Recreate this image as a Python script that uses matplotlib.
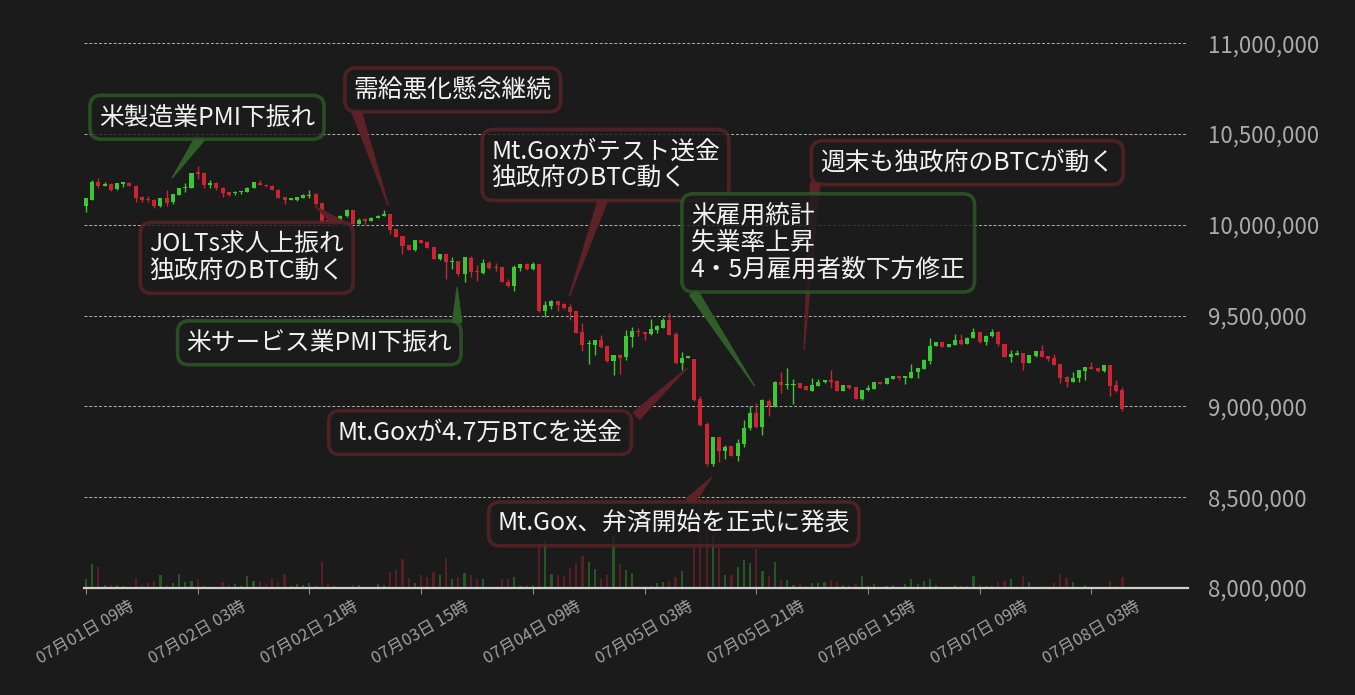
import numpy as np
import pandas as pd
import matplotlib
matplotlib.use("Agg")
import matplotlib.pyplot as plt

plt.rcParams["font.family"] = ["Noto Sans CJK JP", "DejaVu Sans"]

# BTC/JPY 1時間足 (千円単位)
opens_k = [
    10102, 10139, 10238, 10214, 10227, 10198, 10227, 10231, 10216, 10152,
    10143, 10135, 10102, 10150, 10124, 10163, 10203, 10201, 10293, 10286,
    10218, 10232, 10205, 10179, 10176, 10179, 10181, 10203, 10232, 10221,
    10216, 10194, 10154, 10139, 10135, 10146, 10158, 10172, 10121, 10025,
    10014, 10018, 10047, 10080, 10007, 10033, 10022, 10040, 10051, 10058,
    9974, 9937, 9886, 9860, 9915, 9904, 9875, 9809, 9837, 9794,
    9798, 9727, 9815, 9747, 9732, 9787, 9765, 9765, 9685, 9661,
    9760, 9782, 9754, 9782, 9525, 9551, 9579, 9562, 9546, 9524,
    9407, 9344, 9338, 9363, 9330, 9249, 9282, 9272, 9382, 9414,
    9408, 9399, 9421, 9432, 9474, 9397, 9240, 9269, 9260, 9040,
    8903, 8683, 8831, 8756, 8782, 8728, 8794, 8879, 8963, 8888,
    9029, 8998, 9137, 9119, 9119, 9128, 9110, 9086, 9113, 9132,
    9144, 9141, 9084, 9117, 9104, 9042, 9088, 9097, 9133, 9126,
    9152, 9166, 9159, 9157, 9187, 9207, 9250, 9331, 9353, 9327,
    9338, 9364, 9346, 9379, 9408, 9352, 9386, 9412, 9342, 9272,
    9283, 9293, 9240, 9276, 9304, 9276, 9265, 9232, 9161, 9135,
    9155, 9194, 9216, 9210, 9194, 9227, 9117, 9090,
]
highs_k = [
    10145, 10249, 10258, 10234, 10230, 10232, 10232, 10233, 10218, 10157,
    10157, 10140, 10150, 10194, 10168, 10205, 10231, 10286, 10322, 10290,
    10249, 10234, 10206, 10180, 10185, 10185, 10206, 10238, 10249, 10222,
    10217, 10195, 10155, 10150, 10155, 10168, 10194, 10175, 10122, 10028,
    10028, 10053, 10085, 10082, 10035, 10040, 10042, 10052, 10080, 10060,
    9975, 9938, 9887, 9917, 9917, 9908, 9877, 9840, 9840, 9820,
    9800, 9823, 9826, 9776, 9809, 9798, 9787, 9766, 9703, 9780,
    9783, 9791, 9793, 9784, 9579, 9586, 9580, 9568, 9562, 9525,
    9458, 9363, 9365, 9392, 9332, 9282, 9291, 9418, 9436, 9429,
    9410, 9480, 9447, 9485, 9513, 9407, 9302, 9280, 9262, 9057,
    8914, 8831, 8833, 8789, 8784, 8820, 8925, 9003, 9018, 9042,
    9040, 9142, 9187, 9214, 9150, 9130, 9112, 9154, 9150, 9146,
    9199, 9143, 9117, 9120, 9106, 9090, 9117, 9134, 9136, 9155,
    9167, 9168, 9162, 9232, 9212, 9260, 9375, 9356, 9356, 9345,
    9397, 9397, 9381, 9434, 9410, 9395, 9425, 9414, 9344, 9309,
    9309, 9295, 9282, 9304, 9337, 9278, 9287, 9234, 9168, 9188,
    9200, 9218, 9243, 9212, 9227, 9229, 9144, 9106,
]
lows_k = [
    10069, 10139, 10201, 10212, 10185, 10194, 10209, 10212, 10124, 10124,
    10124, 10091, 10100, 10102, 10113, 10163, 10181, 10200, 10253, 10201,
    10201, 10190, 10154, 10161, 10163, 10168, 10180, 10203, 10218, 10210,
    10190, 10146, 10117, 10137, 10133, 10146, 10150, 10110, 10015, 10010,
    10012, 10016, 10045, 10005, 10002, 10003, 10020, 10038, 10050, 9947,
    9932, 9837, 9860, 9858, 9899, 9870, 9812, 9807, 9699, 9754,
    9718, 9685, 9712, 9690, 9730, 9758, 9743, 9683, 9660, 9635,
    9745, 9752, 9752, 9522, 9492, 9535, 9525, 9535, 9474, 9403,
    9305, 9232, 9283, 9319, 9242, 9172, 9177, 9254, 9327, 9385,
    9364, 9395, 9404, 9430, 9392, 9234, 9199, 9266, 9032, 8893,
    8670, 8674, 8692, 8710, 8726, 8698, 8778, 8871, 8882, 8844,
    8948, 8996, 9071, 9095, 9013, 9100, 9088, 9084, 9110, 9130,
    9101, 9084, 9082, 9098, 9040, 9035, 9086, 9095, 9124, 9124,
    9150, 9146, 9124, 9155, 9154, 9205, 9236, 9330, 9325, 9325,
    9336, 9340, 9344, 9377, 9350, 9337, 9384, 9333, 9270, 9245,
    9281, 9201, 9238, 9272, 9270, 9250, 9226, 9128, 9108, 9133,
    9135, 9146, 9204, 9187, 9190, 9058, 9080, 8974,
]
closes_k = [
    10145, 10238, 10212, 10227, 10194, 10232, 10231, 10212, 10148, 10139,
    10135, 10102, 10150, 10121, 10168, 10205, 10207, 10286, 10282, 10221,
    10232, 10201, 10174, 10166, 10183, 10183, 10205, 10234, 10218, 10212,
    10190, 10146, 10135, 10150, 10154, 10166, 10164, 10117, 10018, 10014,
    10025, 10051, 10080, 10007, 10025, 10022, 10040, 10051, 10058, 9970,
    9934, 9882, 9860, 9915, 9901, 9871, 9813, 9837, 9794, 9797,
    9727, 9820, 9738, 9740, 9787, 9760, 9760, 9685, 9661, 9765,
    9782, 9754, 9782, 9525, 9557, 9579, 9557, 9540, 9518, 9404,
    9338, 9348, 9363, 9326, 9249, 9282, 9267, 9385, 9414, 9410,
    9397, 9425, 9440, 9474, 9393, 9240, 9269, 9275, 9036, 8899,
    8683, 8831, 8756, 8776, 8728, 8798, 8881, 8961, 8888, 9036,
    9002, 9137, 9119, 9122, 9126, 9101, 9091, 9117, 9132, 9144,
    9137, 9084, 9117, 9101, 9042, 9090, 9101, 9132, 9126, 9154,
    9166, 9155, 9163, 9188, 9210, 9254, 9331, 9353, 9327, 9342,
    9364, 9342, 9379, 9408, 9352, 9386, 9412, 9342, 9272, 9287,
    9293, 9240, 9282, 9304, 9272, 9260, 9228, 9155, 9135, 9155,
    9199, 9216, 9205, 9196, 9227, 9112, 9084, 8985,
]
# 出来高 (相対値)
volumes = [
    9, 24, 21, 3, 3, 3, 2, 1, 10, 3,
    5, 7, 13, 3, 5, 14, 6, 7, 9, 3,
    1, 1, 6, 3, 4, 2, 12, 7, 7, 4,
    10, 6, 14, 2, 4, 3, 5, 3, 26, 5,
    2, 0.5, 0.5, 3, 3, 1, 1, 4, 3, 16,
    18, 29, 10, 5, 13, 11, 16, 13, 30, 9,
    11, 15, 13, 9, 9, 1, 2, 9, 9, 11,
    2, 3, 3, 46, 48, 14, 13, 12, 20, 25,
    32, 26, 19, 9, 13, 52, 24, 18, 15, 2.5,
    2, 2, 5, 6, 7, 11, 17, 0.5, 43, 89,
    89, 52, 40, 13, 13, 21, 28, 25, 39, 17,
    12, 26, 8, 8, 3, 5, 2, 5, 5, 6,
    8, 6, 3, 3, 4, 12, 2, 4, 1, 2,
    3, 1, 4, 9, 4, 7, 9, 3, 1, 0.3,
    3, 2, 2, 12, 3, 2, 2, 6, 7, 9,
    0.5, 12, 6, 1, 2, 2, 5, 14, 10, 6,
    1, 3, 1, 0.5, 1, 7, 2, 11,
]

start_time = "2024-07-01 09:00"
tick_step = 18
price_ticks = [8000000, 8500000, 9000000, 9500000, 10000000, 10500000, 11000000]

note_texts = [
    "米製造業PMI下振れ",
    "需給悪化懸念継続",
    "JOLTs求人上振れ\n独政府のBTC動く",
    "米サービス業PMI下振れ",
    "Mt.Goxがテスト送金\n独政府のBTC動く",
    "Mt.Goxが4.7万BTCを送金",
    "Mt.Gox、弁済開始を正式に発表",
    "米雇用統計\n失業率上昇\n4・5月雇用者数下方修正",
    "週末も独政府のBTCが動く",
]
note_good = [True, False, False, True, False, False, False, True, False]

# 注記の位置 (足番号, 価格)
note_box = [(19.5, 10592000), (59.1, 10743000), (25.9, 9818000), (37.6, 9350000),
            (83.7, 10329000), (63.5, 8856000), (94.7, 8353000), (119.6, 9900000),
            (142.0, 10342000)]
note_tail = [(18.4, 10478000), (43.6, 10624000), (40.9, 10002000), (59.8, 9463000),
             (83.3, 10139000), (88.7, 8948000), (97.3, 8474000), (97.9, 9626000),
             (117.5, 10231000)]
note_tip = [(13.9, 10258000), (48.7, 10107000), (36.9, 10101000), (59.8, 9654000),
            (77.9, 9608000), (96.8, 9209000), (100.8, 8609000), (107.7, 9113000),
            (115.7, 9311000)]

BG = "#1b1b1b"
UP = "#3cc832"
DOWN = "#cc2433"

o = np.array(opens_k) * 1000
h = np.array(highs_k) * 1000
l = np.array(lows_k) * 1000
c = np.array(closes_k) * 1000
times = pd.date_range(start_time, periods=len(o), freq="h")
x = np.arange(len(o))
colors = np.where(c >= o, UP, DOWN)

fig = plt.figure(figsize=(13.55, 6.95), dpi=100, facecolor=BG)
ax_v = fig.add_axes([83.5 / 1355, 107 / 695, 1104.7 / 1355, 563 / 695])
ax_v.set_facecolor(BG)
ax = ax_v.twinx()

# volume
ax_v.bar(x, volumes, width=0.35, color=colors, alpha=0.35, linewidth=0)
ax_v.set_ylim(0, max(volumes) * 563 / 89)
ax_v.set_yticks([])

# candles
ax.vlines(x, l, h, colors=colors, linewidth=1.0, zorder=3)
body = np.maximum(np.abs(c - o), 6000)
ax.bar(x, body, bottom=np.minimum(o, c), width=0.65, color=colors, linewidth=0, zorder=3)

ax.set_xlim(-0.4, 177.6)
ax.set_ylim(8000000, 11100000)
ax.set_yticks(price_ticks)
ax.set_yticklabels([f"{v:,}" for v in price_ticks])
ax.tick_params(axis="y", length=0, pad=14, labelsize=16, labelcolor="#ababab")
ax.grid(axis="y", color="#d8d8d8", linestyle=(0, (3, 2)), linewidth=0.7, alpha=0.8)

tick_idx = x[::tick_step]
ax_v.set_xticks(tick_idx)
ax_v.set_xticklabels([f"{t.month:02d}月{t.day:02d}日 {t.hour:02d}時" for t in times[::tick_step]],
                     rotation=30, ha="center")
ax_v.tick_params(axis="x", length=4, color="#888888", labelsize=12, labelcolor="#a0a0a0", pad=3)

for a in (ax, ax_v):
    for s in a.spines.values():
        s.set_visible(False)
ax_v.spines["bottom"].set_visible(True)
ax_v.spines["bottom"].set_color("#d0d0d0")
ax_v.spines["bottom"].set_linewidth(1.6)

for txt, good, box, tail, tip in zip(note_texts, note_good, note_box, note_tail, note_tip):
    edge = "#2f5a28" if good else "#5c2428"
    wedge = "#2f5e27" if good else "#5e2226"
    ax.annotate("", xy=tip, xytext=tail,
                arrowprops=dict(arrowstyle="wedge,tail_width=0.55,shrink_factor=0.5",
                                color=wedge, shrinkA=0, shrinkB=0, mutation_scale=12),
                zorder=5)
    ax.text(box[0], box[1], txt, ha="center", va="center", multialignment="left",
            fontsize=17.8, color="#f2f2f2", linespacing=1.06, zorder=6,
            bbox=dict(boxstyle="round,pad=0.36,rounding_size=0.45", fc=BG, alpha=0.8,
                      ec=edge, lw=2.6))

fig.savefig("out.png", dpi=100, facecolor=BG)
